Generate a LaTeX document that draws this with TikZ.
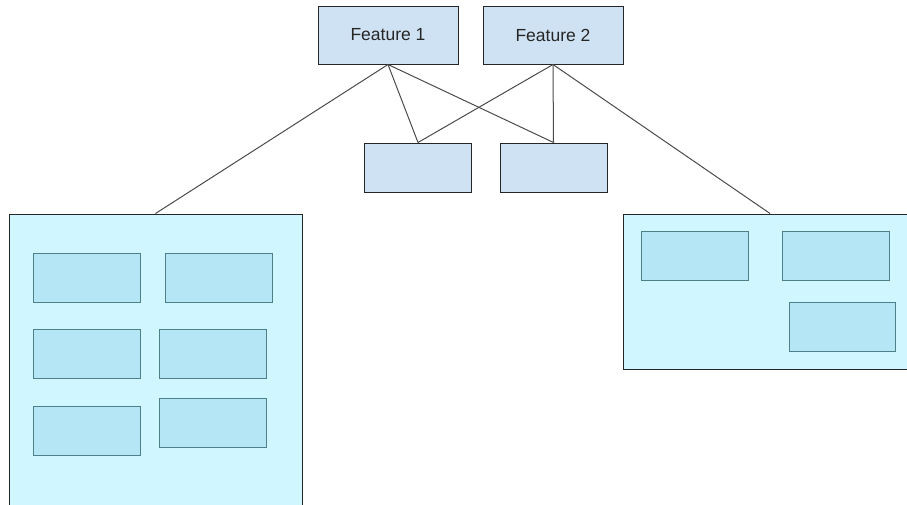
\documentclass[tikz,border=0pt]{standalone}
\usepackage{fontspec}
\setmainfont{Liberation Sans}
\definecolor{featfill}{RGB}{207,226,243}
\definecolor{panelfill}{RGB}{208,247,255}
\definecolor{itemfill}{RGB}{180,230,246}
\definecolor{itemdraw}{RGB}{78,128,138}
\definecolor{linkgray}{RGB}{75,75,75}
\begin{document}
\begin{tikzpicture}[x=1pt, y=-1pt,
  feature/.style={draw=black!85, fill=featfill, line width=1pt, inner sep=0pt,
    minimum width=140pt, minimum height=58pt, text=black!85,
    font=\fontsize{17.5}{20}\selectfont},
  leaf/.style={draw=black!85, fill=featfill, line width=1pt, inner sep=0pt,
    minimum width=107pt, minimum height=49pt},
  panel/.style={draw=black!85, fill=panelfill, line width=1pt, inner sep=0pt},
  item/.style={draw=itemdraw, fill=itemfill, line width=1pt, inner sep=0pt,
    minimum width=107pt, minimum height=49pt},
  link/.style={draw=linkgray, line width=1pt}]
  \useasboundingbox (0,0) rectangle (907,504);
  \clip (0,0) rectangle (907,504);
  % Feature boxes
  \node[feature] (f1) at (388,35) {Feature 1};
  \node[feature] (f2) at (553,35) {Feature 2};
  % Shared boxes
  \node[leaf] (s1) at (418,167.5) {};
  \node[leaf] (s2) at (553.5,167.5) {};
  % Left panel and its items
  \node[panel, minimum width=293pt, minimum height=316pt] (lpanel) at (155.5,372) {};
  \node[item] (la) at (86.5,277.5) {};
  \node[item] (lb) at (218.5,277.5) {};
  \node[item] (lc) at (86.5,354) {};
  \node[item] (ld) at (212.5,354) {};
  \node[item] (le) at (86.5,430.5) {};
  \node[item] (lf) at (212.5,423) {};
  % Right panel and its items
  \node[panel, minimum width=294pt, minimum height=155pt] (rpanel) at (770,291.5) {};
  \node[item] (ra) at (694.5,256) {};
  \node[item] (rb) at (835.5,256) {};
  \node[item, minimum width=106pt] (rc) at (842,326.5) {};
  % Links
  \draw[link] (f1.south) -- (lpanel.north);
  \draw[link] (f1.south) -- (s1.north);
  \draw[link] (f1.south) -- (s2.north);
  \draw[link] (f2.south) -- (s1.north);
  \draw[link] (f2.south) -- (s2.north);
  \draw[link] (f2.south) -- (rpanel.north);
\end{tikzpicture}
\end{document}
